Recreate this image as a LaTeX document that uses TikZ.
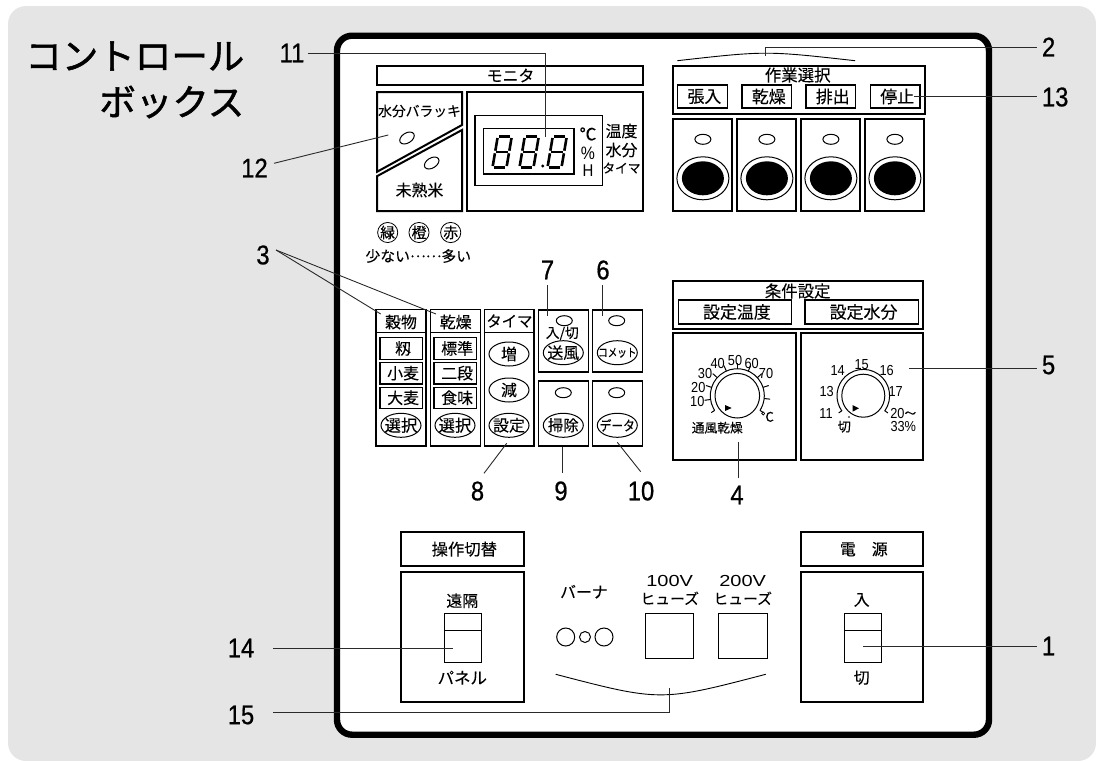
\documentclass[tikz,border=0pt]{standalone}
\usepackage{fontspec}
\usetikzlibrary{shapes.geometric}
\newfontfamily\cjk[FakeBold=0.12]{Noto Sans CJK JP}
\newfontfamily\cjktitle[FakeBold=1.4]{Noto Sans CJK JP}
\newfontfamily\numf[FakeStretch=0.88,FakeBold=0.7]{Liberation Sans}
\newfontfamily\smallnum[FakeStretch=0.88]{Liberation Sans}
\newfontfamily\widenum[FakeStretch=1.25]{Liberation Sans}
\definecolor{bggray}{HTML}{E5E5E5}
\definecolor{lead}{HTML}{2A2A2A}
\newcommand\jf[1]{\fontsize{\fpeval{#1*1.06}}{#1}\selectfont\cjk}
\tikzset{
  jt/.style={font=\jf{#1},inner sep=0pt,outer sep=0pt,align=center},
  sn/.style={font=\fontsize{#1}{#1}\selectfont\smallnum,inner sep=0pt,outer sep=0pt,align=center},
  wn/.style={font=\fontsize{#1}{#1}\selectfont\widenum,inner sep=0pt,outer sep=0pt,align=center},
  num/.style={font=\fontsize{27}{27}\selectfont\numf,inner sep=0pt,outer sep=0pt},
  thickbox/.style={draw=black,line width=2pt,fill=white},
  thinbox/.style={draw=black,line width=1.2pt,fill=white},
  fine/.style={draw=black,line width=1pt,fill=white},
  leader/.style={draw=lead,line width=0.9pt},
  led/.style={ellipse,draw=black,line width=1pt,fill=white,minimum width=16pt,minimum height=10pt,inner sep=0pt,outer sep=0pt},
  btn/.style={ellipse,draw=black,line width=1pt,fill=white,minimum width=40pt,minimum height=24pt,inner sep=0pt,outer sep=0pt},
}
% box: [style]{name}{x1}{y1}{x2}{y2}{text}
\newcommand\bx[7][thickbox]{%
  \pgfmathsetmacro\cxx{(#3+#5)/2}\pgfmathsetmacro\cyy{(#4+#6)/2}%
  \node[#1,inner sep=0pt,outer sep=0pt,minimum width={(#5-#3)*1pt},minimum height={(#6-#4)*1pt}] (#2) at (\cxx,\cyy) {#7};}
% oval button: name x y size text
\newcommand\ov[5]{\node[btn] (#1) at (#2,#3) {};\node[jt=#4] (#1t) at (#2,#3) {#5};}
% seven-segment digit
\newcommand\digit[2]{%
  \begin{scope}[shift={(#1,#2)},xslant=0.17,line width=2.6pt,line cap=butt]
    \draw (2.3,0)--(13.7,0);\draw (2.3,-15.5)--(13.7,-15.5);\draw (2.3,-31)--(13.7,-31);
    \draw (1,-1.5)--(1,-14.2);\draw (1,-16.8)--(1,-29.5);
    \draw (15,-1.5)--(15,-14.2);\draw (15,-16.8)--(15,-29.5);
  \end{scope}}
\begin{document}
\begin{tikzpicture}[x=1pt,y=-1pt]
\useasboundingbox (0,0) rectangle (1096,761);
% background
\path[fill=bggray,rounded corners=18pt] (8,6) rectangle (1096,761);
% title
\node[font=\fontsize{36.5}{36.5}\selectfont\cjktitle,inner sep=0pt,anchor=east] (title1) at (244.5,56) {コントロール};
\node[font=\fontsize{36.5}{36.5}\selectfont\cjktitle,inner sep=0pt,anchor=east] (title2) at (244.5,102) {ボックス};
% panel
\draw[line width=6.4pt,fill=white,rounded corners=15pt] (337,35.7) rectangle (989,734.7);
% monitor
\bx{mon}{377}{66}{643}{85}{}
\node[jt=15] (monT) at (510.5,75.5) {モニタ};
\draw[line width=2pt,fill=white] (377,92)--(462,92)--(462,125)--(377,171.8)--cycle;
\draw[line width=2pt,fill=white] (377,176.2)--(462,130)--(462,211)--(377,211)--cycle;
\node[jt=13] (wb) at (419.5,111) {水分バラッキ};
\node[led,rotate=32] (ledA) at (407,138) {};
\node[led,rotate=32] (ledB) at (431.7,163) {};
\node[jt=15] (miju) at (419.5,190) {未熟米};
\bx{dsp}{467}{91.5}{643}{211}{}
\bx[thinbox]{dspA}{475}{115.7}{602.7}{185.7}{}
\bx[thinbox]{dspB}{483.3}{128.3}{574}{174}{}
\digit{491.5}{167.5}\digit{518.5}{167.5}\digit{546.5}{167.5}
\fill (542.7,166) circle (1.6);
\node[jt=16] (uC) at (588,134) {℃};
\node[sn=18] (uP) at (588,153) {\%};
\node[sn=17] (uH) at (588,171) {H};
\node[jt=15] (tA) at (621.5,131) {温度};
\node[jt=15] (tB) at (621.5,150) {水分};
\node[jt=12] (tC) at (621.5,168) {タイマ};
\foreach \n/\x/\t in {cA/387.7/緑,cB/419/橙,cC/450.7/赤}
  \node[circle,draw,line width=0.8pt,minimum size=19pt,inner sep=0pt,font=\jf{14}] (\n) at (\x,232.5) {\t};
\node[jt=14] (few) at (418.3,256) {少ない\raisebox{4.5pt}{……}多い};
% work select
\bx{wk}{673.3}{65.7}{924.5}{114}{}
\node[jt=15.5] (wkT) at (797.7,75) {作業選択};
\bx[thinbox]{wA}{677.7}{85}{727.3}{108}{\jf{16} 張入}
\bx[thinbox]{wB}{742}{85}{791.7}{108}{\jf{16} 乾燥}
\bx[thinbox]{wC}{806}{85}{855.7}{108}{\jf{16} 排出}
\bx[thinbox]{wD}{870.7}{85}{920}{108}{\jf{16} 停止}
\foreach \n/\x in {pA/673.3,pB/737.3,pC/801.3,pD/865.3}{
  \pgfmathsetmacro\xb{\x+58.7}\pgfmathsetmacro\xm{\x+29.6}
  \bx{\n}{\x}{119}{\xb}{210.7}{}
  \node[led] (\n L) at (\xm,139.3) {};
  \node[ellipse,draw,line width=1pt,fill=white,minimum width=52pt,minimum height=43pt,inner sep=0pt] (\n O) at (\xm,178.3) {};
  \node[ellipse,fill=black,minimum width=42pt,minimum height=34pt,inner sep=0pt] (\n I) at (\xm,178.3) {};
}
% grain / dry / timer columns
\foreach \n/\a/\b in {gA/376/426,gB/430.7/480.7,gC/484.7/534}{
  \bx[thinbox]{\n}{\a}{309.3}{\b}{446}{}
  \draw[line width=1.2pt] (\a,332.3)--(\b,332.3);
}
\node[jt=15] (gAt) at (401,322) {穀物};
\node[jt=15] (gBt) at (455.7,322) {乾燥};
\node[jt=14.5] (gCt) at (509.4,321) {タイマ};
\bx[thinbox]{g1}{380}{337.5}{422.7}{359.3}{\jf{15} 籾}
\bx[thinbox]{g2}{380}{362.3}{422.7}{384}{\jf{15} 小麦}
\bx[thinbox]{g3}{380}{387.3}{422.7}{408.3}{\jf{15} 大麦}
\bx[thinbox]{d1}{434}{337.5}{476.7}{359.3}{\jf{15} 標準}
\bx[thinbox]{d2}{434}{362.3}{476.7}{384}{\jf{15} 二段}
\bx[thinbox]{d3}{434}{387.3}{476.7}{408.3}{\jf{15} 食味}
\ov{sA}{401}{425.3}{15.5}{選択}
\ov{sB}{455}{425.3}{15.5}{選択}
\ov{tInc}{509}{354}{15}{増}
\ov{tDec}{509}{390}{15}{減}
\ov{tSet}{509}{425.3}{15}{設定}
% small button boxes
\bx[thinbox]{bA}{538.3}{310}{588.3}{372}{}
\bx[thinbox]{bB}{592.7}{310}{642.7}{372}{}
\bx[thinbox]{bC}{538.3}{381}{588.3}{446}{}
\bx[thinbox]{bD}{592.7}{381}{642.7}{446}{}
\node[led] (lA) at (564.3,320.7) {};
\node[led] (lB) at (616.7,320.7) {};
\node[led] (lC) at (563.3,392.7) {};
\node[led] (lD) at (616.7,392.7) {};
\node[jt=13] (io) at (562.3,333.5) {入/切};
\ov{oA}{563.3}{352.7}{15}{送風}
\ov{oB}{617.3}{352.7}{11}{\scalebox{0.82}[1]{コメット}}
\ov{oC}{563.3}{425.3}{14.5}{掃除}
\ov{oD}{617.3}{425.3}{13}{\scalebox{0.85}[1]{データ}}
% condition setting
\bx{cs}{673.3}{280.7}{923.3}{328.7}{}
\node[jt=15.5] (csT) at (797.7,291) {条件設定};
\bx[thinbox]{csA}{678.3}{300}{791.7}{324}{\jf{16} 設定温度}
\bx[thinbox]{csB}{805}{300}{918.3}{324}{\jf{16} 設定水分}
\bx{dA}{673.3}{333.3}{796}{460}{}
\bx{dB}{800.7}{333.3}{923.3}{460}{}
% left dial
\begin{scope}[shift={(737.3,395.7)},yscale=-1,line width=1pt]
  \draw (0,0) circle (22.3);
  \draw (213:27)--(208:27) arc (208:-28:27)--(-33:27);
  \draw (213:27)--(213:31);\draw (-33:27)--(-33:31);
  \foreach \a in {188,162,138,114,90,66,42,18,-6} \draw (\a:27)--(\a:33);
\end{scope}
\fill (725,405)--(731.7,408)--(725,411)--cycle;
\foreach \n/\x/\y/\t in {n10/697.3/401.7/10,n20/698.3/387.3/20,n30/705/374/30,n40/717.7/364/40,n50/735/360.7/50,n60/751.7/363.3/60,n70/766/374/70}
  \node[sn=14.5] (\n) at (\x,\y) {\t};
\node[jt=12.5] (degC) at (767.3,416.7) {℃};
\node[jt=12] (tsu) at (717.3,427.7) {通風乾燥};
% right dial
\begin{scope}[shift={(863.3,395.7)},yscale=-1,line width=1pt]
  \draw (0,0) circle (21.5);
  \draw (-35:30)--(-35:26.3) arc (-35:215:26.3)--(215:30);
\end{scope}
\fill (852.5,405)--(859,408.3)--(852.5,411.7)--cycle;
\fill (849,417) circle (0.9);
\foreach \n/\x/\y/\t in {m15/861.7/364.3/15,m14/837.7/370.7/14,m16/886.7/370.7/16,m13/826.7/391.7/13,m17/895.7/391.7/17,m11/826/414/11}
  \node[sn=14.5] (\n) at (\x,\y) {\t};
\node[sn=14.5] (m20) at (903.3,413.5) {20\raisebox{1pt}{\jf{11}〜}};
\node[sn=14.5] (m33) at (903.3,426.3) {33\%};
\node[jt=12.5] (off) at (844.3,426.7) {切};
% operation switch
\bx{opT}{401}{532.3}{524}{566}{\jf{15.4} 操作切替}
\bx{opB}{401}{572.3}{524}{701.7}{}
\node[jt=15] (remote) at (462.3,600.7) {遠隔};
\bx[fine]{swA}{444.7}{613}{481.7}{662.3}{}
\draw[line width=1pt] (444.7,630.7)--(481.7,630.7);
\node[jt=15.5] (panel) at (462.3,677.7) {パネル};
% burner and fuses
\node[jt=15] (burner) at (584,591.7) {バーナ};
\node[circle,draw,line width=1pt,minimum size=18pt,inner sep=0pt] (bL) at (565.7,637) {};
\node[circle,draw,line width=1pt,minimum size=11pt,inner sep=0pt] (bM) at (585,637) {};
\node[circle,draw,line width=1pt,minimum size=18pt,inner sep=0pt] (bR) at (604,637) {};
\node[wn=16] (f100) at (669.7,581) {100V};
\node[jt=14] (f100b) at (669.7,598.3) {ヒューズ};
\node[wn=16] (f200) at (742.7,581) {200V};
\node[jt=14] (f200b) at (742.7,598.3) {ヒューズ};
\bx[fine]{fA}{645.7}{613}{693.7}{658.7}{}
\bx[fine]{fB}{718.3}{613}{767}{658.7}{}
% power
\bx{pwT}{800.7}{532.3}{923.3}{566}{\jf{15} 電\hspace{16pt}源}
\bx{pwB}{800.7}{572.3}{923.3}{701.7}{}
\node[jt=15] (on) at (861.7,600) {入};
\bx[fine]{swB}{844}{613}{881}{662.3}{}
\draw[line width=1pt] (844,630.7)--(881,630.7);
\node[jt=15] (offB) at (861.7,677.7) {切};
% callout numbers
\foreach \n/\x/\y/\t in {L3/263/255/3,L7/547.5/270/7,L6/603/270/6,L8/477.5/491/8,L9/561/491/9,L10/641/491/10,L4/737/495/4,L11/292/53/11,L12/254.5/168/12,L14/241/648/14,L15/241/715/15}
  \node[num] (\n) at (\x,\y) {\t};
\foreach \n/\x/\y/\t in {L2/1042/47/2,L13/1042/97/13,L5/1042/365/5,L1/1042/646/1}
  \node[num,anchor=west] (\n) at (\x,\y) {\t};
% leader ends
\coordinate (e2a) at (677.3,60.7);\coordinate (e2b) at (855,60.7);
\coordinate (e2m) at (765.3,55.7);
\coordinate (e15a) at (555.7,674.3);\coordinate (e15b) at (765.7,674.3);
\coordinate (e15m) at (669.3,687.7);
% connectors
\draw[line width=0.9pt] (e2a) .. controls (766,50.7) .. (e2b);
\draw[line width=0.9pt] (e15a) .. controls (660.7,701.7) .. (e15b);
\draw[leader] (e2m) |- (1036.7,47);
\draw[leader] (914,96.7)--(1036.7,96.7);
\draw[leader] (909,368.3)--(1036.7,368.3);
\draw[leader] (863.3,646)--(1036.7,646);
\draw[leader] (308,53.3) -| (545.7,136.7);
\draw[leader] (274,163.3)--(388.3,135);
\draw[leader] (276,250)--(380.7,314);
\draw[leader] (276,250)--(436,314);
\draw[leader] (547.3,285)--(547.3,316);
\draw[leader] (602.3,285)--(602.3,316);
\draw[leader] (484,473.3)--(506.7,443.3);
\draw[leader] (562.3,472.7)--(562.3,446.7);
\draw[leader] (640.7,471.7)--(617.3,442.3);
\draw[leader] (738.7,478.3)--(738.7,442.3);
\draw[leader] (273,648.7)--(452.7,648.7);
\draw[leader] (273,712.7) -| (e15m);
\end{tikzpicture}
\end{document}
